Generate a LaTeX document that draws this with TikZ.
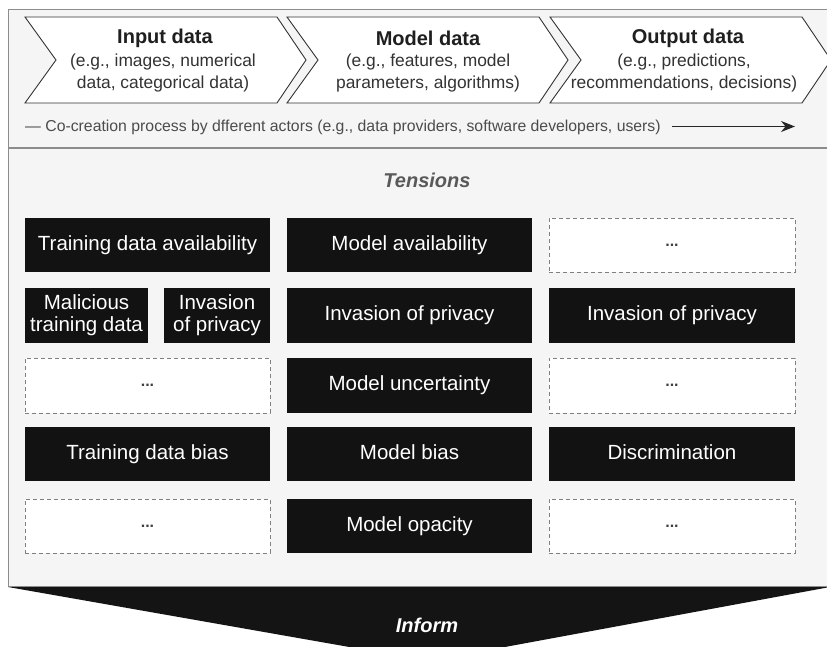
\documentclass[tikz,border=0pt]{standalone}
\usepackage{fontspec}
\setmainfont{Liberation Sans}
\usetikzlibrary{arrows.meta}
\begin{document}
\begin{tikzpicture}[x=1pt,y=-1pt,
  frame/.style={fill=black!4, draw=black!45, line width=1pt},
  chev/.style={draw=black!80, fill=white, line width=0.9pt, line join=miter},
  chtitle/.style={font=\fontsize{20}{22}\selectfont\bfseries, text=black!88, inner sep=0pt},
  chsub/.style={font=\fontsize{17.4}{22}\selectfont, text=black!80, align=center, inner sep=0pt},
  blk/.style={fill=black!93, text=white, font=\fontsize{20.5}{22}\selectfont, align=center, inner sep=0pt, execute at begin node=\vphantom{Tg}},
  dsh/.style={draw=black!50, fill=white, line width=0.9pt, dash pattern=on 4pt off 3pt, font=\fontsize{16}{18}\selectfont\bfseries, text=black!75, inner sep=0pt},
  tlabel/.style={font=\fontsize{20}{22}\selectfont\bfseries\itshape, text=black!65, inner sep=0pt}
]
\useasboundingbox (0,0) rectangle (827,647);
\fill[white] (0,0) rectangle (827,647);
% frames
\draw[frame] (8,10) rectangle (832,147.5);
\draw[frame] (8,148.5) rectangle (832,586);
% chevrons
\foreach \x/\n in {25/c1,287/c2,550/c3}{
  \draw[chev] (\x,17) -- (\x+252,17) -- (\x+281,60) -- (\x+252,103) -- (\x,103) -- (\x+31,60) -- cycle;
}
\node[chtitle] (t1) at (165,38) {Input data};
\node[chsub] (s1) at (163,73) {(e.g., images, numerical\\data, categorical data)};
\node[chtitle] (t2) at (428,38) {Model data};
\node[chsub] (s2) at (428,73) {(e.g., features, model\\parameters, algorithms)};
\node[chtitle] (t3) at (688,38) {Output data};
\node[chsub] (s3) at (684,73) {(e.g., predictions,\\recommendations, decisions)};
% co-creation
\node[anchor=west, font=\fontsize{15.8}{18}\selectfont, text=black!70, inner sep=0pt] (co) at (25,127) {— Co-creation process by dfferent actors (e.g., data providers, software developers, users)};
\coordinate (ca) at (672,126.5);
\coordinate (cb) at (795,126.5);
\draw[black!85, line width=1.3pt, -{Stealth[length=14pt,width=11pt]}] (ca) -- (cb);
% tensions
\node[tlabel] (ten) at (427,180) {Tensions};
% row 1
\node[blk, minimum width=245pt, minimum height=54pt] (r1a) at (147.5,245) {Training data availability};
\node[blk, minimum width=245pt, minimum height=54pt] (r1b) at (409.5,245) {Model availability};
\node[dsh, minimum width=246pt, minimum height=54pt] (r1c) at (672,245) {...};
% row 2
\node[blk, minimum width=123pt, minimum height=55pt] (r2a) at (86.5,315.5) {Malicious\\training data};
\node[blk, minimum width=106pt, minimum height=55pt] (r2b) at (217,315.5) {Invasion\\of privacy};
\node[blk, minimum width=245pt, minimum height=55pt] (r2c) at (409.5,315.5) {Invasion of privacy};
\node[blk, minimum width=246pt, minimum height=55pt] (r2d) at (672,315.5) {Invasion of privacy};
% row 3
\node[dsh, minimum width=245pt, minimum height=55pt] (r3a) at (147.5,385.5) {...};
\node[blk, minimum width=245pt, minimum height=55pt] (r3b) at (409.5,385.5) {Model uncertainty};
\node[dsh, minimum width=246pt, minimum height=55pt] (r3c) at (672,385.5) {...};
% row 4
\node[blk, minimum width=245pt, minimum height=54pt] (r4a) at (147.5,454) {Training data bias};
\node[blk, minimum width=245pt, minimum height=54pt] (r4b) at (409.5,454) {Model bias};
\node[blk, minimum width=246pt, minimum height=54pt] (r4c) at (672,454) {Discrimination};
% row 5
\node[dsh, minimum width=245pt, minimum height=54pt] (r5a) at (147.5,526) {...};
\node[blk, minimum width=245pt, minimum height=54pt] (r5b) at (409.5,526) {Model opacity};
\node[dsh, minimum width=246pt, minimum height=54pt] (r5c) at (672,526) {...};
% inform arrow
\begin{scope}
\clip (0,0) rectangle (827,647);
\fill[black!92] (8,587) -- (830,587) -- (429,661) -- cycle;
\end{scope}
\node[font=\fontsize{20}{22}\selectfont\bfseries\itshape, text=white, inner sep=0pt] (inf) at (427,625) {Inform};
\end{tikzpicture}
\end{document}
